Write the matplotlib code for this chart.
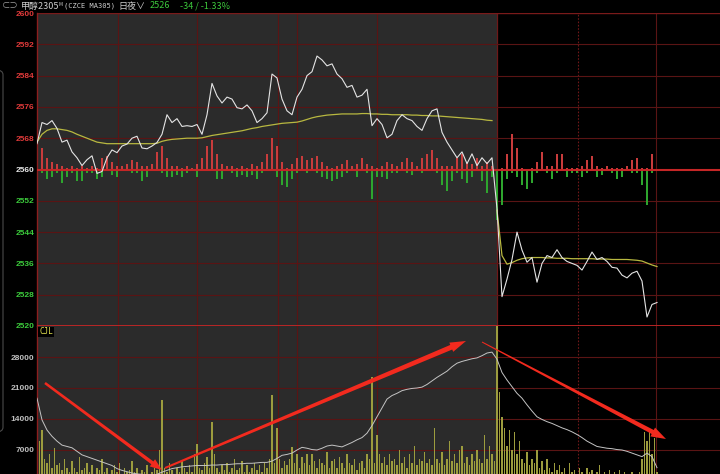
import numpy as np
import matplotlib
matplotlib.use("Agg")
import matplotlib.pyplot as plt
from matplotlib.patches import Polygon, FancyBboxPatch

plt.rcParams['font.family'] = ['Noto Sans CJK SC', 'DejaVu Sans']

W, H = 720, 474

# last price, sampled every 5 time units
price = [2566.6, 2572, 2571.5, 2572.5, 2570.5, 2567, 2567.5, 2564.5, 2563, 2561,
         2562.5, 2563.5, 2559, 2559.5, 2563, 2565, 2564.3, 2566, 2566.5, 2568,
         2568.5, 2565.5, 2565.3, 2566, 2566.9, 2569, 2574, 2572, 2573, 2571,
         2571.2, 2571, 2571.5, 2569, 2574, 2582, 2578.8, 2577, 2578.5, 2578,
         2575.8, 2575.5, 2576.5, 2575, 2572, 2573, 2574.5, 2584.4, 2583.4, 2578,
         2575, 2574, 2578.5, 2580.5, 2584, 2585, 2589, 2588, 2586.5, 2587,
         2584.4, 2583.2, 2581, 2581.5, 2578.5, 2579, 2580.5, 2571.2, 2573, 2571.5,
         2568.1, 2569, 2572.5, 2574, 2573, 2572.5, 2571, 2570, 2573, 2575,
         2575.5, 2569.5, 2567, 2565, 2563, 2564.5, 2561.5, 2564, 2561, 2563,
         2561.5, 2563, 2550, 2527.5, 2532, 2537, 2544, 2539.4, 2536.3, 2537.5,
         2531.2, 2536, 2538, 2537.5, 2539.5, 2537.5, 2536.5, 2536, 2535.5, 2534.3,
         2536.5, 2538.9, 2537, 2537.5, 2536.5, 2535, 2534.8, 2533, 2532.3, 2533.5,
         2534, 2531.5, 2522.3, 2525.5, 2526]

# average price line
avg = [2567.0, 2569.0, 2570.0, 2570.4, 2570.4, 2570.2, 2570.0, 2569.6, 2569.0, 2568.5,
       2568.0, 2567.5, 2567.0, 2566.8, 2566.6, 2566.6, 2566.6, 2566.6, 2566.6, 2566.6,
       2566.6, 2566.6, 2566.6, 2566.6, 2566.7, 2567.2, 2567.5, 2567.7, 2567.8, 2567.9,
       2568.0, 2568.0, 2568.0, 2568.1, 2568.4, 2568.7, 2568.9, 2569.1, 2569.3, 2569.5,
       2569.7, 2569.9, 2570.2, 2570.5, 2570.7, 2571.0, 2571.2, 2571.4, 2571.6, 2571.8,
       2571.9, 2572.0, 2572.1, 2572.4, 2572.8, 2573.2, 2573.5, 2573.7, 2573.9, 2574.0,
       2574.1, 2574.2, 2574.2, 2574.2, 2574.2, 2574.3, 2574.3, 2574.2, 2574.2, 2574.1,
       2574.1, 2574.0, 2574.0, 2574.0, 2574.0, 2573.9, 2573.9, 2573.8, 2573.8, 2573.7,
       2573.7, 2573.6, 2573.5, 2573.4, 2573.3, 2573.2, 2573.1, 2573.0, 2572.9, 2572.8,
       2572.6, 2572.5, 2549.6, 2538.0, 2535.8, 2536.2, 2536.8, 2537.2, 2537.4, 2537.5,
       2537.5, 2537.5, 2537.4, 2537.4, 2537.3, 2537.3, 2537.3, 2537.2, 2537.2, 2537.2,
       2537.2, 2537.2, 2537.1, 2537.1, 2537.1, 2537.0, 2537.0, 2537.0, 2537.0, 2536.9,
       2536.8, 2536.6, 2536.1, 2535.6, 2535.2]

# red bars above the 2560 line / green bars below (price units)
up = [4, 5.5, 3, 2, 1.5, 1, 0.5, 1, 0.5, 1,
      0.5, 1, 0.5, 3, 3.5, 2, 1, 1, 1.5, 2.5,
      2, 1, 1, 1.5, 4.5, 6, 3, 1, 1, 0.5,
      1, 0.5, 1.5, 3, 6, 7.5, 4, 1.5, 1, 1,
      0.5, 1, 0.5, 1.5, 1, 2, 4, 8, 6, 2,
      0.5, 1.5, 3, 3.5, 2.5, 3, 3.5, 2, 1, 0.5,
      1, 1.5, 2.5, 1, 1.5, 3, 1.5, 1, 0.5, 1,
      2, 1.5, 1, 2, 3, 2, 1, 3, 4, 5,
      3, 1, 1, 1, 3, 4, 2, 1.5, 3, 1,
      2, 1, 0, 0.5, 4, 9, 5.5, 0.5, 0, 0.5,
      2, 4.5, 1, 1, 4, 4, 0.5, 0.5, 0.5, 1,
      2.5, 3.5, 1, 0.5, 1, 0.5, 0.5, 0.5, 1, 2.5,
      3, 0.5, 0.5, 4, 0]
down = [0.5, 1, 2.5, 2, 1, 3.5, 2, 1, 3, 3,
        1, 1, 2.5, 2, 0.5, 1.5, 2, 0.5, 0.5, 1,
        1, 3, 2, 0.5, 0.5, 1, 2, 2, 1.5, 2,
        1, 0.5, 2, 0.5, 0.5, 0.5, 2.5, 2.5, 0.5, 1,
        2, 1.5, 2, 1.5, 2.5, 1, 0.5, 0.5, 2, 4,
        4.5, 2.5, 1, 0.5, 1, 0.5, 1, 2, 2.5, 3,
        2.5, 2, 1, 0.5, 2, 0.5, 1, 7.5, 2, 2,
        2.5, 1, 1, 0.5, 1, 1.5, 0.5, 1, 0.5, 0.5,
        1, 4, 5.5, 3, 1, 2.5, 3.5, 2, 0.5, 3,
        6, 2, 13, 9, 2.5, 1, 2, 4, 5, 3.5,
        1, 0.5, 1, 2.5, 1, 0.5, 2, 1, 1, 2,
        1, 0.5, 2, 1.5, 0.5, 1, 2.5, 2, 0.5, 1,
        1, 4, 9, 1, 0]

# volume (thousands), sampled every 2.5 time units
vol = [18.7, 9, 11.5, 5, 4, 6, 3, 7.5, 3.5, 4,
       2.5, 5, 3, 2, 4.5, 3, 2, 5.5, 2.5, 3,
       4, 2, 3.5, 1.5, 3, 2.5, 5, 2, 3, 1.5,
       2.5, 3.5, 2, 4, 1.5, 3, 2, 2.5, 4.5, 2,
       3, 1.5, 2.5, 2, 3.5, 1.5, 2, 3, 2.5, 7,
       18.3, 3, 2, 4, 2.5, 1.5, 3, 2, 4.5, 3,
       2, 3.5, 2, 6, 8.3, 3, 2.5, 4, 5.5, 3,
       13.3, 6, 3, 2, 3.5, 2.5, 4, 2, 3, 5,
       2.5, 3, 4.5, 2, 3.5, 2, 3, 4, 2.5, 3.5,
       2, 4, 3, 5, 19.4, 4, 12, 5, 3, 4.5,
       3.5, 5, 7.7, 4, 6, 3, 5.5, 4, 6, 3.5,
       6, 4.5, 3, 5, 4, 3.5, 6.5, 3, 4.5, 5,
       3, 5.5, 4, 3, 6, 4, 3.5, 5, 2.5, 4,
       4.5, 3, 6, 5, 23.5, 4, 10.4, 6, 4, 5.5,
       3.5, 6, 4.5, 5, 3.5, 7, 4, 5.5, 3, 6,
       4, 8, 3.5, 5, 4.5, 6.5, 4, 5, 3.5, 12,
       5, 4, 6.5, 3.5, 5, 9, 4.5, 6, 4, 7,
       8, 4, 5.5, 3.5, 6, 4.5, 7, 5, 4, 10.4,
       5, 8, 6, 4.5, 35, 20, 14.5, 12, 8, 11.5,
       7, 11, 6, 9, 5, 4, 6.5, 3.5, 5, 4,
       7, 3, 4.5, 2.5, 5, 3, 2, 4, 2.5, 3.5,
       2, 3, 1.5, 4, 2, 2.5, 1.5, 3, 2, 1.5,
       3, 2, 2.5, 1.5, 2, 3.5, 1.5, 2, 1, 2.5,
       1.5, 2, 1, 2.5, 1.5, 2, 1, 1.5, 2, 1,
       1.5, 2, 5, 11, 9, 11, 6, 9.7, 2]

# cumulative volume average line (thousands), every 5 time units
vol_avg = [18.7, 13.8, 11.5, 10.1, 9.0, 8.1, 7.8, 7.5, 6.7, 5.9,
           5.5, 5.1, 4.7, 4.3, 3.9, 3.5, 2.8, 2.4, 2.1, 1.8,
           1.6, 1.5, 1.4, 1.4, 1.5, 2.0, 2.4, 2.8, 3.0, 3.2,
           3.3, 3.4, 3.5, 3.5, 3.5, 3.6, 3.6, 3.7, 3.7, 3.8,
           3.9, 3.9, 4.0, 4.0, 4.1, 4.2, 4.2, 4.5, 5.1, 5.8,
           6.0, 6.3, 7.0, 7.6, 7.4, 7.1, 7.0, 7.4, 7.9, 8.1,
           7.9, 7.7, 8.2, 8.7, 9.3, 9.8, 10.8, 12.5, 14.5, 16.5,
           18.5, 19.3, 19.8, 20.4, 20.7, 20.9, 21.0, 21.2, 21.8, 22.6,
           23.4, 24.1, 24.8, 25.8, 26.6, 27.0, 27.3, 27.6, 27.8, 28.3,
           28.9, 29.1, 27.5, 24.5, 22.8, 21.3, 19.8, 18.7, 17.2, 15.8,
           14.5, 13.9, 13.4, 13.0, 12.5, 12.0, 11.6, 11.1, 10.5, 9.8,
           9.0, 8.4, 7.8, 7.6, 7.4, 7.3, 7.1, 7.0, 6.7, 6.3,
           5.9, 5.5, 6.3, 5.5, 3.0]

price_ticks = list(range(2520, 2601, 8))
vol_ticks = [7000, 14000, 21000, 28000]
session_split = 460      # night session (grey) ends here
vgrid = [81, 160, 241, 260, 340, 619]
vgrid_dotted = [541]

GRID = '#5a1414'
RED = '#c42626'
GREY_BG = '#2b2b2b'


def fx(px):
    return px / W


def fy(py):
    return 1 - py / H


fig = plt.figure(figsize=(7.2, 4.74), dpi=100, facecolor='black')

# price panel: y 13..326 px, volume panel: y 326..481 px (0 below the figure)
ax1 = fig.add_axes([fx(37), fy(326), fx(683), 313 / H])
ax2 = fig.add_axes([fx(37), fy(481), fx(683), 155 / H])

for ax in (ax1, ax2):
    ax.set_facecolor('black')
    ax.set_xlim(0, 683)
    ax.axvspan(0, session_split, color=GREY_BG, zorder=0, lw=0)
    for x in vgrid:
        ax.axvline(x, color=GRID, lw=0.8, zorder=1)
    for x in vgrid_dotted:
        ax.axvline(x, color='#6e1818', lw=0.8, ls=(0, (1.5, 1.5)), zorder=1)
    ax.axvline(session_split, color='#6e1818', lw=0.9, zorder=1)
    ax.set_xticks([])
    ax.tick_params(axis='y', length=0, pad=2)
    for s in ('right', 'bottom', 'top'):
        ax.spines[s].set_visible(False)
    ax.spines['left'].set_color('#8c1e1e')
    ax.spines['left'].set_linewidth(1.0)

# ---- price panel ----
ax1.set_ylim(2520, 2600)
for v in price_ticks:
    if v == 2560:
        ax1.axhline(v, color=RED, lw=1.5, zorder=3)
    elif v == 2520:
        ax1.axhline(v, color=RED, lw=1.3, zorder=5)
    elif v == 2600:
        ax1.axhline(v, color='#7a1a1a', lw=1.0, zorder=1)
    else:
        ax1.axhline(v, color=GRID, lw=0.8, zorder=1)

t5 = np.arange(len(price)) * 5
ax1.bar(t5, up, bottom=2560, width=1.5, color='#c83c3c', zorder=2, lw=0)
ax1.bar(t5, -np.array(down), bottom=2560, width=1.5, color='#2ea52e', zorder=2, lw=0)
ax1.plot(t5[:92], avg[:92], color='#b8b840', lw=0.9, zorder=4)
ax1.plot(t5[92:], avg[92:], color='#b8b840', lw=0.9, zorder=4)
ax1.plot(t5, price, color='#e4e4e4', lw=0.8, zorder=4)

ax1.set_yticks(price_ticks)
ax1.set_yticklabels([str(v) for v in price_ticks], fontsize=6, fontweight='bold',
                    family='Liberation Sans')
for lab, v in zip(ax1.get_yticklabels(), price_ticks):
    if v > 2560:
        lab.set_color('#e03a3a')
    elif v == 2560:
        lab.set_color('#e8e8e8')
    else:
        lab.set_color('#3ccc3c')

# ---- volume panel ----
ax2.set_ylim(0, 35000)
for v in vol_ticks:
    ax2.axhline(v, color=GRID, lw=0.8, zorder=1)
t25 = np.arange(len(vol)) * 2.5
ax2.bar(t25, np.array(vol) * 1000, width=1.1, color='#9c9c3e', zorder=2, lw=0)
ax2.plot(t5, np.array(vol_avg) * 1000, color='#c4c4c4', lw=0.7, zorder=3)
ax2.set_yticks(vol_ticks)
ax2.set_yticklabels([str(v) for v in vol_ticks], fontsize=6, fontweight='bold',
                    family='Liberation Sans', color='#c0c0c0')

fig.text(fx(39), fy(332), 'CJL', color='#e6e650', fontsize=5.5, va='center',
         family='DejaVu Sans Mono',
         bbox=dict(facecolor='black', edgecolor='none', pad=0.6))

# ---- header ----
fig.text(fx(2), fy(6), '⊂⊃', color='#9a9a9a', fontsize=6, va='center')
fig.text(fx(21), fy(6), '甲醇2305', color='#cfcfcf', fontsize=6.5, va='center')
fig.text(fx(58), fy(4), 'M', color='#cfcfcf', fontsize=3.5, va='center')
fig.text(fx(64), fy(6), '(CZCE MA305)', color='#cfcfcf', fontsize=5,
         va='center', family='DejaVu Sans Mono')
fig.text(fx(118), fy(6), '日夜∨', color='#cfcfcf', fontsize=6.5, va='center')
fig.text(fx(150), fy(6), '2526', color='#3cc83c', fontsize=6.5, va='center')
fig.text(fx(180), fy(6), '-34 / -1.33%', color='#3cc83c', fontsize=6.5, va='center')

# left ui frame
fig.add_artist(FancyBboxPatch((fx(-20), fy(432)), fx(23), (432 - 70) / H,
                              boxstyle='round,pad=0,rounding_size=0.01',
                              transform=fig.transFigure, facecolor='none',
                              edgecolor='#4a4a4a', lw=0.8))


# ---- hand drawn red arrows ----
def arrow(x0, y0, x1, y1, w0, w1, hl, hw):
    d = np.array([x1 - x0, y1 - y0], dtype=float)
    d /= np.hypot(*d)
    n = np.array([-d[1], d[0]])
    a = np.array([x0, y0], dtype=float)
    tip = np.array([x1, y1], dtype=float)
    b = tip - d * hl
    pts = [a + n * w0 / 2, b + n * w1 / 2, b + n * hw / 2, tip,
           b - n * hw / 2, b - n * w1 / 2, a - n * w0 / 2]
    pts = [(fx(p[0]), fy(p[1])) for p in pts]
    fig.add_artist(Polygon(pts, closed=True, transform=fig.transFigure,
                           facecolor='#f22a1e', edgecolor='none', zorder=10))


arrow(45, 383, 162, 470, 2.5, 3.5, 12, 9)
arrow(165, 468, 466, 341, 2, 5, 16, 10)
arrow(482, 342, 666, 439, 1, 4.5, 15, 10)

fig.savefig('out.png', dpi=100, facecolor='black')
